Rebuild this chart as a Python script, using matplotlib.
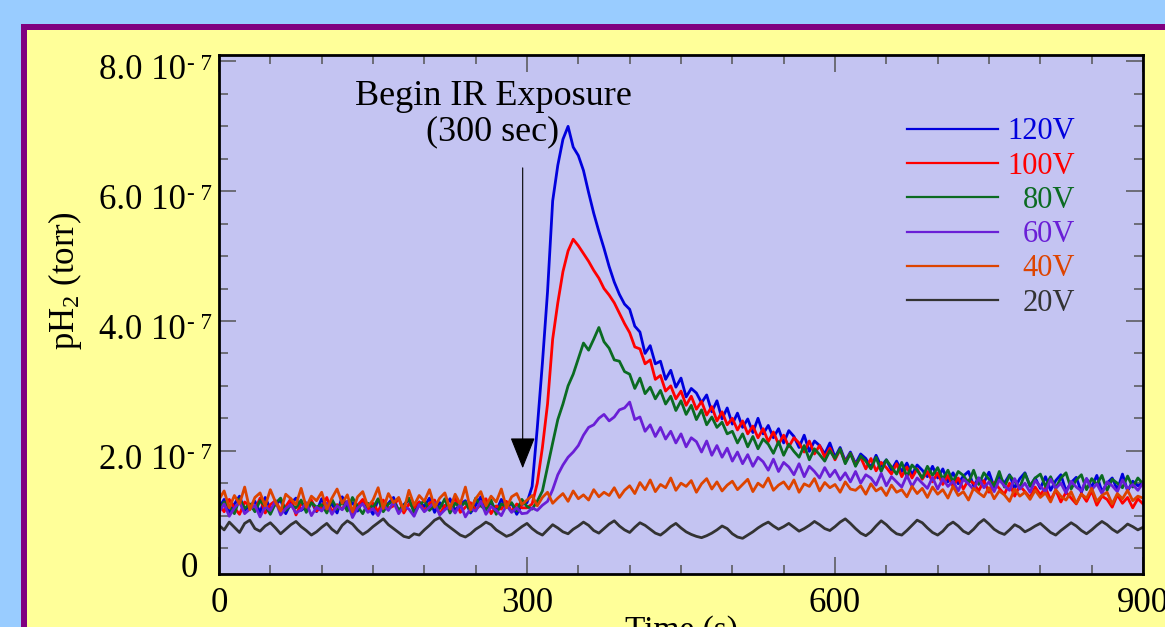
import matplotlib.pyplot as plt
import matplotlib.transforms as mtransforms
import numpy as np
from matplotlib.patches import Rectangle
from matplotlib.ticker import MultipleLocator

plt.rcParams['font.family'] = ['Liberation Serif', 'DejaVu Serif']
plt.rcParams['mathtext.fontset'] = 'custom'
plt.rcParams['mathtext.rm'] = 'Liberation Serif'
plt.rcParams['mathtext.it'] = 'Liberation Serif:italic'

# Time axis (s), one reading every 5 s
time_s = np.arange(0, 905, 5)

# pH2 readings in units of 1e-9 torr
p_120v = [
    112, 125, 104, 118, 130, 108, 115, 122, 105, 128, 110, 117, 124, 103, 119, 127, 108, 114, 121, 106,
    126, 111, 118, 104, 129, 113, 120, 107, 123, 116, 102, 125, 112, 119, 128, 106, 117, 124, 109, 121,
    114, 127, 105, 120, 112, 126, 108, 118, 123, 104, 116, 129, 110, 121, 107, 125, 113, 119, 102, 117,
    120, 145, 235, 335, 445, 585, 640, 680, 700, 668, 655, 632, 598, 566, 538, 512, 484, 460, 441, 426,
    418, 392, 383, 350, 362, 334, 338, 310, 324, 298, 312, 283, 296, 289, 274, 286, 260, 277, 249, 266,
    241, 258, 236, 249, 228, 250, 226, 239, 220, 234, 212, 231, 222, 205, 224, 199, 215, 208, 195, 212,
    190, 205, 184, 198, 180, 195, 188, 174, 193, 176, 186, 170, 184, 168, 181, 163, 178, 170, 160, 176,
    158, 172, 152, 166, 149, 161, 168, 146, 158, 151, 167, 144, 160, 150, 163, 142, 157, 166, 145, 158,
    142, 160, 139, 154, 163, 138, 151, 159, 136, 157, 144, 162, 137, 150, 158, 140, 164, 138, 153, 146,
    150,
]
p_100v = [
    118, 106, 125, 112, 102, 121, 115, 109, 127, 104, 117, 123, 108, 114, 126, 101, 119, 111, 124, 107,
    113, 128, 105, 117, 110, 122, 103, 116, 125, 108, 119, 106, 124, 111, 115, 127, 104, 118, 112, 121,
    107, 119, 124, 102, 116, 111, 128, 105, 113, 120, 109, 117, 126, 103, 115, 110, 122, 106, 118, 112,
    112, 118, 150, 205, 272, 372, 428, 476, 508, 526, 516, 504, 492, 478, 466, 450, 440, 428, 412, 396,
    382, 360, 357, 334, 340, 310, 316, 292, 300, 280, 292, 270, 284, 264, 276, 255, 268, 246, 260, 240,
    250, 232, 246, 226, 238, 220, 234, 214, 229, 210, 224, 206, 220, 212, 198, 215, 195, 208, 190, 204,
    186, 202, 182, 196, 178, 190, 172, 188, 169, 182, 174, 164, 180, 160, 175, 158, 172, 156, 168, 152,
    166, 148, 162, 145, 158, 141, 155, 150, 138, 154, 136, 151, 142, 133, 150, 130, 146, 137, 128, 144,
    132, 143, 124, 139, 121, 136, 127, 118, 134, 122, 138, 116, 130, 125, 113, 132, 119, 128, 112, 126,
    118,
]
p_80v = [
    109, 121, 114, 103, 126, 111, 118, 106, 123, 115, 102, 119, 127, 108, 116, 112, 124, 105, 120, 113,
    117, 104, 125, 110, 121, 107, 128, 114, 103, 119, 112, 126, 106, 118, 122, 109, 115, 127, 104, 116,
    123, 108, 117, 111, 126, 104, 119, 113, 121, 106, 127, 115, 109, 124, 102, 118, 114, 120, 107, 125,
    114, 110, 122, 138, 175, 212, 248, 272, 300, 318, 342, 366, 355, 372, 390, 368, 358, 340, 338, 322,
    318, 296, 312, 288, 298, 280, 293, 272, 284, 262, 277, 256, 270, 248, 263, 240, 252, 236, 244, 226,
    230, 212, 226, 206, 222, 203, 218, 210, 196, 214, 193, 210, 199, 190, 208, 186, 203, 194, 184, 200,
    188, 203, 180, 196, 176, 192, 184, 172, 190, 168, 186, 175, 164, 182, 160, 178, 170, 158, 176, 162,
    174, 156, 170, 152, 168, 162, 150, 170, 148, 166, 156, 146, 168, 144, 162, 153, 143, 165, 146, 158,
    164, 145, 160, 142, 158, 166, 141, 155, 163, 140, 157, 148, 162, 139, 156, 150, 143, 161, 144, 158,
    149,
]
p_60v = [
    105, 118, 99, 112, 121, 103, 110, 116, 98, 114, 108, 123, 101, 111, 117, 104, 109, 120, 100, 113,
    107, 119, 102, 115, 109, 122, 97, 112, 118, 105, 111, 100, 116, 108, 121, 103, 114, 110, 99, 117,
    106, 113, 120, 101, 109, 115, 104, 118, 98, 111, 107, 122, 102, 114, 108, 100, 116, 105, 112, 103,
    104, 112, 108, 116, 122, 140, 163, 178, 190, 198, 208, 224, 236, 240, 250, 256, 246, 252, 263, 266,
    275, 248, 252, 230, 240, 222, 236, 218, 230, 212, 226, 206, 220, 214, 198, 215, 193, 208, 190, 204,
    184, 198, 180, 194, 176, 190, 183, 170, 187, 168, 182, 175, 163, 180, 160, 176, 168, 158, 174, 160,
    170, 155, 166, 152, 168, 150, 163, 158, 147, 165, 146, 160, 152, 144, 162, 145, 158, 150, 142, 159,
    141, 157, 145, 153, 138, 156, 149, 140, 158, 143, 152, 137, 155, 146, 139, 157, 141, 150, 136, 154,
    145, 137, 156, 142, 150, 135, 153, 144, 138, 157, 140, 149, 134, 152, 146, 137, 155, 141, 148, 139,
    150,
]
p_40v = [
    125, 138, 112, 131, 118, 144, 109, 128, 135, 115, 140, 121, 107, 133, 126, 117, 142, 113, 130, 123,
    136, 110, 127, 141, 119, 132, 106, 129, 137, 114, 124, 143, 111, 134, 120, 128, 108, 139, 116, 131,
    122, 140, 113, 127, 135, 110, 133, 118, 144, 109, 126, 137, 115, 130, 121, 141, 112, 129, 134, 117,
    124, 131, 115, 128, 136, 119, 127, 134, 122, 138, 126, 132, 124, 140, 129, 136, 131, 143, 128, 139,
    146, 134, 151, 140, 155, 137, 148, 143, 158, 139, 150, 145, 154, 136, 149, 157, 141, 152, 138, 147,
    153, 140, 148, 156, 137, 150, 144, 158, 139, 147, 152, 141, 155, 136, 149, 145, 157, 138, 151, 143,
    148, 136, 152, 141, 139, 146, 133, 149, 138, 143, 131, 147, 136, 140, 129, 145, 134, 142, 128, 144,
    133, 140, 127, 145, 131, 137, 124, 142, 135, 129, 143, 126, 138, 132, 122, 141, 130, 136, 125, 139,
    128, 135, 121, 140, 130, 124, 137, 119, 133, 127, 142, 122, 131, 136, 118, 134, 126, 139, 123, 130,
    127,
]
p_20v = [
    85, 78, 90, 82, 74, 88, 93, 80, 76, 84, 89, 81, 72, 79, 86, 91, 83, 77, 70, 75,
    82, 88, 79, 73, 85, 92, 87, 78, 71, 76, 83, 89, 95, 86, 80, 74, 68, 66, 72, 70,
    78, 85, 93, 97, 88, 82, 76, 70, 67, 72, 79, 84, 90, 86, 78, 73, 68, 71, 77, 83,
    88, 80, 74, 70, 78, 86, 81, 75, 72, 79, 84, 90, 85, 77, 73, 80, 87, 92, 84, 78,
    74, 82, 89, 85, 79, 73, 70, 76, 83, 88, 81, 75, 71, 68, 66, 69, 73, 78, 84, 80,
    72, 67, 65, 70, 75, 81, 86, 90, 84, 79, 83, 88, 82, 76, 80, 85, 91, 86, 80, 77,
    83, 90, 95, 88, 80, 73, 69, 75, 84, 92, 86, 78, 72, 70, 77, 85, 93, 89, 81, 74,
    70, 76, 85, 90, 84, 76, 72, 79, 88, 94, 87, 79, 74, 71, 78, 86, 82, 75, 79, 84,
    88, 81, 74, 70, 77, 83, 89, 84, 77, 72, 78, 85, 91, 86, 79, 74, 80, 87, 83, 78,
    82,
]

labels = ["120V", "100V", "80V", "60V", "40V", "20V"]
colors = ["#0000dd", "#ff0000", "#0b6b22", "#6a1fd6", "#dd4400", "#333333"]
readings = [p_120v, p_100v, p_80v, p_60v, p_40v, p_20v]

y_ticks = [2e-7, 4e-7, 6e-7, 8e-7]
y_tick_text = ["2.0 10", "4.0 10", "6.0 10", "8.0 10"]

W, H = 1165, 627
fig = plt.figure(figsize=(W / 100, H / 100), dpi=100, facecolor="#99ccff")
# purple frame with yellow panel, running off the right and bottom edges
fig.add_artist(Rectangle((20.7 / W, -0.2), 1.2, 0.2 + (1 - 24.3 / H),
                         transform=fig.transFigure, facecolor="#800080",
                         edgecolor="none", zorder=-2))
fig.add_artist(Rectangle((26.7 / W, -0.2), 1.2, 0.2 + (1 - 30.3 / H),
                         transform=fig.transFigure, facecolor="#ffff99",
                         edgecolor="none", zorder=-1))

ax = fig.add_axes([219 / W, 1 - 574 / H, 924 / W, 519 / H])
ax.set_facecolor("#c4c4f2")

for lab, vals, col in zip(labels, readings, colors):
    assert len(vals) == len(time_s)
    ax.plot(time_s, np.array(vals) * 1e-9, color=col, lw=2.0, label=lab)

ax.set_xlim(0, 900)
ax.set_ylim(0.1e-7, 8.1e-7)
ax.xaxis.set_major_locator(MultipleLocator(300))
ax.xaxis.set_minor_locator(MultipleLocator(50))
ax.set_yticks(y_ticks)
ax.yaxis.set_minor_locator(MultipleLocator(0.5e-7))
ax.tick_params(which="both", direction="in", top=True, right=True,
               color="#555555", width=1.1, labelsize=25, labelleft=False)
ax.tick_params(which="major", length=12)
ax.tick_params(which="minor", length=6.5)
ax.tick_params(axis="x", pad=9.5)
for sp in ax.spines.values():
    sp.set_linewidth(2.0)
    sp.set_color("black")

# y tick labels: mantissa + superscript exponent, plus the bare "0"
ytrans = mtransforms.blended_transform_factory(ax.transAxes, ax.transData)
main_tr = mtransforms.offset_copy(ytrans, fig=fig, y=-18, units="dots")
sup_tr = mtransforms.offset_copy(ytrans, fig=fig, y=-8.3, units="dots")
for val, txt in zip(y_ticks, y_tick_text):
    ax.text(-0.0355, val, txt, transform=main_tr, ha="right", va="baseline",
            fontsize=25, clip_on=False)
    ax.text(-0.0076, val, "- 7", transform=sup_tr, ha="right", va="baseline",
            fontsize=16.5, clip_on=False)
ax.text(-0.0227, -0.0058, "0", transform=ax.transAxes, ha="right",
        va="baseline", fontsize=25, clip_on=False)

ax.set_xlabel("Time (s)", fontsize=24)
ax.xaxis.set_label_coords(0.5, -0.079)
ax.set_ylabel("pH$_2$ (torr)", fontsize=25)
ax.yaxis.set_label_coords(-0.146, 0.565)

# IR exposure marker
ax.annotate("", xy=(295.8, 1.73e-7), xytext=(295.8, 6.36e-7),
            arrowprops=dict(arrowstyle="-|>,head_length=1.0,head_width=0.4",
                            color="black", lw=0.8, mutation_scale=20,
                            shrinkA=0, shrinkB=0))
ax.text(266.9, 7.19e-7, "Begin IR Exposure\n(300 sec)", ha="center",
        va="center", multialignment="center", fontsize=26, linespacing=1.12)

# legend drawn by hand: line on the left, right-aligned coloured label
for i, (lab, col) in enumerate(zip(labels, colors)):
    yy = 0.8574 - i * 0.0659
    ax.plot([0.7446, 0.8431], [yy, yy], transform=ax.transAxes, color=col, lw=1.6)
    ax.text(0.9264, yy - 0.0202, lab, transform=ax.transAxes, ha="right",
            va="baseline", color=col, fontsize=22)

fig.savefig("out.png", dpi=100, facecolor=fig.get_facecolor())
